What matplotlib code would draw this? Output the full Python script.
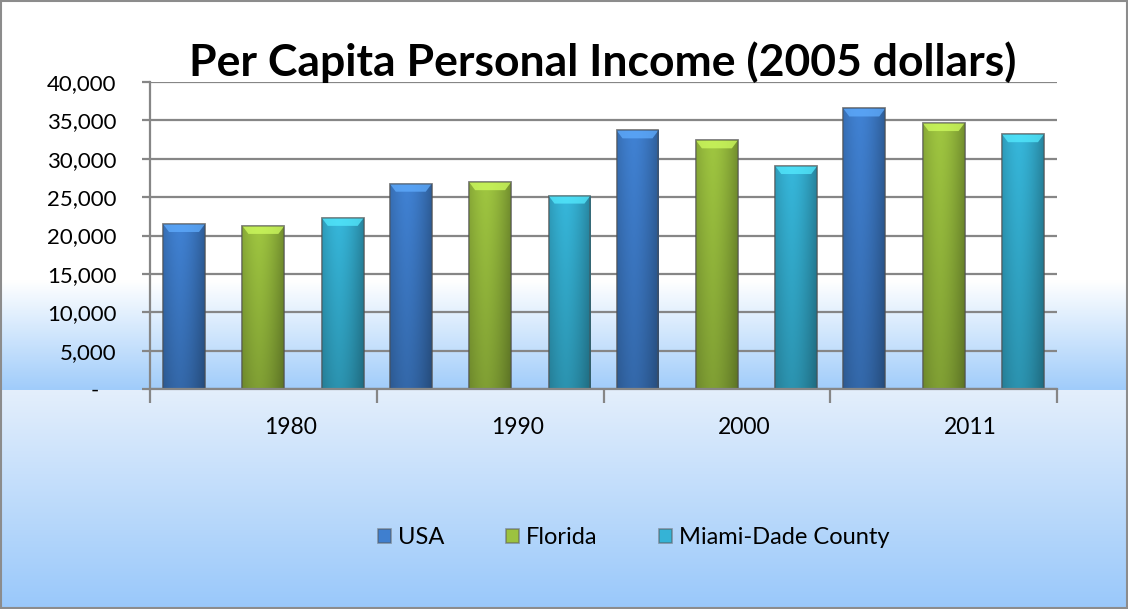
import numpy as np
import matplotlib
matplotlib.use("Agg")
import matplotlib.pyplot as plt
from matplotlib.patches import Rectangle, Polygon
from matplotlib.colors import to_rgb
from matplotlib.ticker import FuncFormatter, FixedLocator

# ---------------- data ----------------
years = ["1980", "1990", "2000", "2011"]
usa = [21500, 26750, 33700, 36550]
florida = [21250, 26950, 32400, 34650]
miami_dade = [22300, 25200, 29050, 33200]
series_names = ["USA", "Florida", "Miami-Dade County"]
y_ticks = [0, 5000, 10000, 15000, 20000, 25000, 30000, 35000, 40000]
title_text = "Per Capita Personal Income (2005 dollars)"

# ---------------- style ----------------
colors = ["#3f7fcf", "#9cc23f", "#35b3d6"]
grid_col = "#868686"
FONT = "Lato"
W, H = 1128, 609

fig = plt.figure(figsize=(W / 100, H / 100), dpi=100)

# background: two vertical gradients (chart area)
bg = np.ones((H, 1, 3))
split = 389
for y in range(H):
    if y < 280:
        c = np.array([255, 255, 255])
    elif y <= split:
        t = (y - 280) / (split - 280)
        c = (1 - t) * np.array([255, 255, 255]) + t * np.array([160, 204, 250])
    else:
        t = (y - split) / (H - 1 - split)
        c = (1 - t) * np.array([228, 239, 252]) + t * np.array([153, 200, 250])
    bg[y, 0] = c / 255
bg_ax = fig.add_axes([0, 0, 1, 1], zorder=-10)
bg_ax.imshow(bg, aspect="auto", extent=[0, 1, 0, 1], interpolation="bilinear")
bg_ax.set_axis_off()

# frame around the whole chart
fig.patches.append(Rectangle((0.0008, 0.0015), 0.9984, 0.997, transform=fig.transFigure,
                             fill=False, edgecolor="#8c8c8c", linewidth=1.5, zorder=50))

# plot axes
ax = fig.add_axes([150 / W, 1 - 389 / H, 907 / W, 307 / H])
ax.patch.set_alpha(0)
ax.set_xlim(-0.5, len(years) - 0.5)
ax.set_ylim(0, 40000)

for s in ["top", "right"]:
    ax.spines[s].set_visible(False)
for s in ["left", "bottom"]:
    ax.spines[s].set_color(grid_col)
    ax.spines[s].set_linewidth(1.6)
    ax.spines[s].set_zorder(4)

ax.set_axisbelow(True)
ax.yaxis.grid(True, color=grid_col, linewidth=1.6)
ax.set_yticks(y_ticks)
ax.yaxis.set_major_formatter(FuncFormatter(lambda v, p: "-   " if v == 0 else f"{int(v):,}"))
ax.tick_params(axis="y", direction="out", length=6, width=1.6, color=grid_col,
               labelsize=16, pad=18)
for lbl in ax.get_yticklabels():
    lbl.set_fontfamily(FONT)

# x axis: ticks at category boundaries, labels shifted (as in the original)
x = np.arange(len(years))
label_shift = 27 / 227
ax.xaxis.set_major_locator(FixedLocator(np.arange(len(years) + 1) - 0.5))
ax.xaxis.set_minor_locator(FixedLocator(x + label_shift))
ax.set_xticklabels([])
ax.set_xticklabels(years, minor=True, fontfamily=FONT)
ax.tick_params(axis="x", which="major", direction="out", length=10, width=1.6, color=grid_col)
ax.tick_params(axis="x", which="minor", length=0, labelsize=16.5, pad=20)

# bars
bar_w = 0.185
offs = [-0.35, 0.0, 0.35]
series = [usa, florida, miami_dade]
px_per_unit_y = 307 / 40000.0
px_per_unit_x = 907 / len(years)

handles = []
for vals, col, off, name in zip(series, colors, offs, series_names):
    bars = ax.bar(x + off, vals, width=bar_w, color=col, edgecolor=(0.35, 0.35, 0.35, 0.55),
                  linewidth=1.2, zorder=3, label=name)
    handles.append(bars)
    base = np.array(to_rgb(col))
    for b in bars:
        bx, bwid, bh = b.get_x(), b.get_width(), b.get_height()
        ny, nx = 60, 40
        tx = np.linspace(0, 1, nx)
        ty = np.linspace(0, 1, ny)[:, None]  # 0 top -> 1 bottom
        hfac = 1.0 - 0.28 * np.abs(tx - 0.4) ** 1.6 * 2.2
        vfac = 1.02 - 0.2 * ty
        img = np.clip(base[None, None, :] * (hfac[None, :, None] * vfac[:, :, None]), 0, 1)
        im = ax.imshow(img, extent=[bx, bx + bwid, 0, bh], aspect="auto", zorder=3.1,
                       interpolation="bilinear")
        im.set_clip_path(b)
        # top bevel
        bev_h = 8 / px_per_unit_y
        ins = 6 / px_per_unit_x
        top_col = np.clip(base * 1.2 + 0.08, 0, 1)
        bevel = Polygon([(bx, bh), (bx + bwid, bh), (bx + bwid - ins, bh - bev_h),
                         (bx + ins, bh - bev_h)], closed=True, facecolor=top_col,
                        edgecolor="none", alpha=0.75, zorder=3.2)
        ax.add_patch(bevel)
        outline = Rectangle((bx, 0), bwid, bh, fill=False,
                            edgecolor=(0.3, 0.3, 0.3, 0.5), linewidth=1.2, zorder=3.3)
        ax.add_patch(outline)

# title
fig.text(603 / W, 1 - 62 / H, title_text, ha="center", va="center",
         fontsize=32, fontweight="bold", fontfamily=FONT, color="black")

# legend
leg = fig.legend(handles=handles, labels=series_names, loc="center",
                 bbox_to_anchor=(634 / W, 1 - 538 / H), ncol=3, frameon=False,
                 handlelength=0.55, handleheight=0.55, handletextpad=0.3,
                 columnspacing=2.6, prop={"family": FONT, "size": 17})

fig.savefig("out.png", dpi=100)
